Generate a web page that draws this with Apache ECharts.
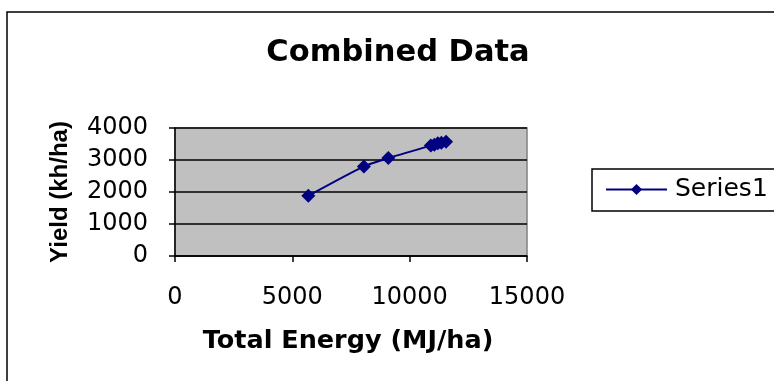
<!DOCTYPE html>
<html>
<head>
<meta charset="utf-8">
<script src="https://cdn.jsdelivr.net/npm/echarts@6/dist/echarts.min.js"></script>
<style>
html,body{margin:0;padding:0;background:#fff;}
#chart{width:774px;height:381px;}
</style>
</head>
<body>
<div id="chart"></div>
<script>
// Data
var energy = [5680, 8050, 9090, 10900, 11050, 11200, 11350, 11550];
var yieldVals = [1880, 2800, 3060, 3450, 3480, 3520, 3540, 3570];
var xTicks = [0, 5000, 10000, 15000];
var yTicks = [0, 1000, 2000, 3000, 4000];
var seriesName = 'Series1';
var titleText = 'Combined Data';
var xName = 'Total Energy (MJ/ha)';
var yName = 'Yield (kh/ha)';

var points = energy.map(function (x, i) { return [x, yieldVals[i]]; });

var chart = echarts.init(document.getElementById('chart'), null, {renderer: 'canvas'});
var WIDE = '"DejaVu Sans", sans-serif';
var ARIAL = '"Liberation Sans", Arial, sans-serif';
function plain(v) { return String(v); }
chart.setOption({
  animation: false,
  backgroundColor: '#ffffff',
  title: {
    text: titleText,
    left: 393, top: 33,
    textAlign: 'center',
    textStyle: {fontFamily: WIDE, fontWeight: 'bold', fontSize: 30.5, color: '#000'}
  },
  graphic: [{
    type: 'rect',
    shape: {x: 7, y: 12, width: 820, height: 420},
    style: {fill: null, stroke: '#000', lineWidth: 1.5},
    silent: true, z: 100
  }],
  legend: {
    data: [seriesName],
    left: 592, top: 169,
    orient: 'vertical',
    borderColor: '#000', borderWidth: 1.5,
    padding: [8, 60, 9, 13],
    itemWidth: 61, itemHeight: 14, itemGap: 0,
    textStyle: {fontFamily: WIDE, fontSize: 25, color: '#000', padding: [0, 0, 0, 3]}
  },
  grid: {
    left: 175, right: 247, top: 128, bottom: 125,
    containLabel: false, outerBoundsMode: 'none',
    show: true, backgroundColor: '#c0c0c0', borderColor: '#808080', borderWidth: 1.5
  },
  xAxis: {
    type: 'value', min: xTicks[0], max: xTicks[xTicks.length - 1], interval: 5000,
    name: xName, nameLocation: 'middle', nameGap: 72,
    nameTextStyle: {fontFamily: WIDE, fontWeight: 'bold', fontSize: 25.5, color: '#000', padding: [0, 6, 0, 0]},
    axisLine: {show: true, onZero: false, lineStyle: {color: '#000', width: 1.5}},
    axisTick: {show: true, inside: false, length: 6, lineStyle: {color: '#000', width: 1.5}},
    axisLabel: {margin: 30, fontFamily: WIDE, fontSize: 24, color: '#000', formatter: plain},
    splitLine: {show: false}
  },
  yAxis: {
    type: 'value', min: yTicks[0], max: yTicks[yTicks.length - 1], interval: 1000,
    name: yName, nameLocation: 'middle', nameGap: 103, nameRotate: 90,
    nameTextStyle: {fontFamily: ARIAL, fontWeight: 'bold', fontSize: 24, color: '#000'},
    axisLine: {show: true, onZero: false, lineStyle: {color: '#000', width: 1.5}},
    axisTick: {show: true, inside: false, length: 6, lineStyle: {color: '#000', width: 1.5}},
    axisLabel: {margin: 27, fontFamily: WIDE, fontSize: 24, color: '#000', formatter: plain},
    splitLine: {show: true, lineStyle: {color: '#000', width: 1.5}}
  },
  series: [{
    name: seriesName,
    type: 'line',
    data: points,
    smooth: 0.2,
    symbol: 'diamond',
    symbolSize: 14,
    itemStyle: {color: '#000080'},
    lineStyle: {color: '#000080', width: 2}
  }]
});
</script>
</body>
</html>
